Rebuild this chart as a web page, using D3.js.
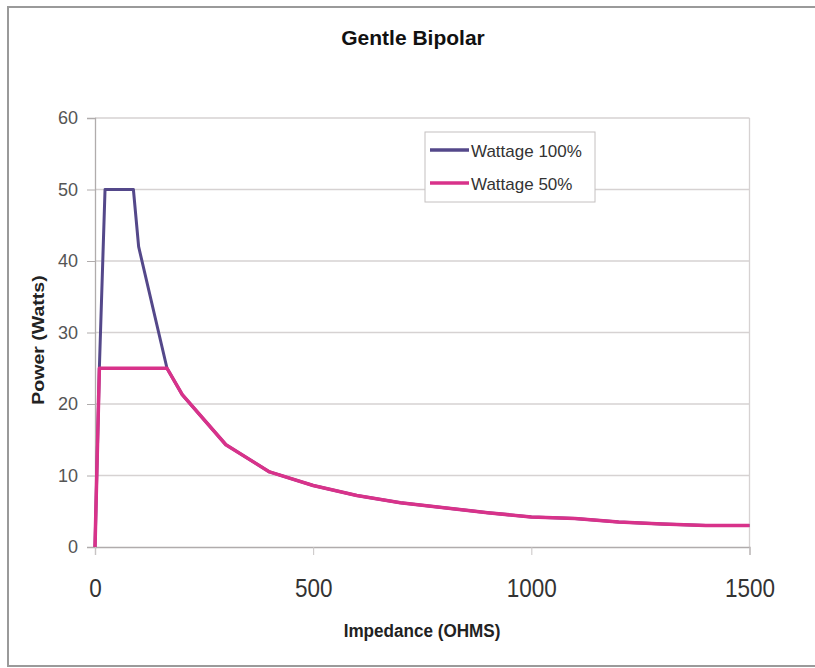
<!DOCTYPE html>
<html>
<head>
<meta charset="utf-8">
<script src="https://cdn.jsdelivr.net/npm/d3@7/dist/d3.min.js"></script>
<style>
  html, body { margin: 0; padding: 0; background: #fff; }
  svg { display: block; font-family: "Liberation Sans", Arial, sans-serif; }
</style>
</head>
<body>
<svg id="chart" width="815" height="668"></svg>
<script>
// Output power curves of the generator in Gentle Bipolar mode
const ohms100  = [0, 10, 23, 88, 100, 165, 200, 300, 400, 500, 600, 700, 800, 900, 1000, 1100, 1200, 1300, 1400, 1500];
const watts100 = [0, 25, 50, 50, 42, 25, 21.3, 14.3, 10.5, 8.6, 7.2, 6.2, 5.5, 4.8, 4.2, 4.0, 3.5, 3.2, 3.0, 3.0];
const ohms50   = [0, 10, 165, 200, 300, 400, 500, 600, 700, 800, 900, 1000, 1100, 1200, 1300, 1400, 1500];
const watts50  = [0, 25, 25, 21.3, 14.3, 10.5, 8.6, 7.2, 6.2, 5.5, 4.8, 4.2, 4.0, 3.5, 3.2, 3.0, 3.0];
const seriesNames = ["Wattage 100%", "Wattage 50%"];
const xTicks = [0, 500, 1000, 1500];
const yTicks = [0, 10, 20, 30, 40, 50, 60];

const colors = ["#54488a", "#d8328a"];

const svg = d3.select("#chart");
const plot = { left: 95, right: 749.5, top: 118, bottom: 547 };

const x = d3.scaleLinear().domain([0, 1500]).range([plot.left, plot.right]);
const y = d3.scaleLinear().domain([0, 60]).range([plot.bottom, plot.top]);

// outer frame
svg.append("path")
  .attr("d", `M820,7 H8 V666 H820`)
  .attr("fill", "none").attr("stroke", "#9a9a9a").attr("stroke-width", 2);

// title
svg.append("text")
  .attr("x", 413).attr("y", 45)
  .attr("text-anchor", "middle")
  .attr("font-size", 21).attr("font-weight", "bold").attr("fill", "#111")
  .text("Gentle Bipolar");

// gridlines
svg.append("g").selectAll("line")
  .data(yTicks.filter(d => d > 0))
  .join("line")
  .attr("x1", plot.left).attr("x2", plot.right)
  .attr("y1", d => y(d)).attr("y2", d => y(d))
  .attr("stroke", "#d6d2d2").attr("stroke-width", 1.3);

// right border of plot area
svg.append("line")
  .attr("x1", plot.right).attr("x2", plot.right)
  .attr("y1", plot.top).attr("y2", plot.bottom)
  .attr("stroke", "#d6d2d2").attr("stroke-width", 1.3);

// y axis
const yAxis = d3.axisLeft(y).tickValues(yTicks).tickSize(8).tickPadding(9);
const gy = svg.append("g").attr("transform", `translate(${plot.left},0)`).call(yAxis);
gy.select(".domain").attr("stroke", "#b0acac").attr("stroke-width", 1.3);
gy.selectAll(".tick line").attr("stroke", "#b0acac");
gy.selectAll(".tick text").attr("font-size", 18).attr("fill", "#555")
  .attr("font-family", "Liberation Sans, Arial, sans-serif");

// x axis
const xAxis = d3.axisBottom(x).tickValues(xTicks).tickSize(8).tickPadding(0).tickFormat(d3.format("d"));
const gx = svg.append("g").attr("transform", `translate(0,${plot.bottom})`).call(xAxis);
gx.select(".domain").attr("stroke", "#b0acac").attr("stroke-width", 1.3);
gx.selectAll(".tick line").attr("stroke", "#c8c4c4");
gx.selectAll(".tick text")
  .attr("font-size", 25).attr("fill", "#333").attr("dy", null)
  .attr("font-family", "Liberation Sans, Arial, sans-serif")
  .attr("y", 0)
  .attr("transform", "translate(0,50) scale(0.9,1)");

// axis titles
svg.append("text")
  .attr("transform", "translate(422,637) scale(0.9,1)")
  .attr("text-anchor", "middle")
  .attr("font-size", 19).attr("font-weight", "bold").attr("fill", "#222")
  .text("Impedance (OHMS)");

svg.append("text")
  .attr("transform", "translate(44,340) rotate(-90) scale(1.15,1)")
  .attr("text-anchor", "middle")
  .attr("font-size", 17).attr("font-weight", "bold").attr("fill", "#222")
  .text("Power (Watts)");

// series lines
const line = d3.line().x(d => x(d[0])).y(d => y(d[1]));
const series = [
  d3.zip(ohms100, watts100),
  d3.zip(ohms50, watts50)
];
svg.append("g").selectAll("path")
  .data(series)
  .join("path")
  .attr("d", line)
  .attr("fill", "none")
  .attr("stroke", (d, i) => colors[i])
  .attr("stroke-width", (d, i) => i === 0 ? 3 : 3.5)
  .attr("stroke-linejoin", "round");

// legend
const legend = svg.append("g");
legend.append("rect")
  .attr("x", 425).attr("y", 132).attr("width", 170).attr("height", 70)
  .attr("fill", "#fff").attr("stroke", "#c4c0c0").attr("stroke-width", 1);
const items = legend.selectAll("g.item")
  .data(seriesNames)
  .join("g").attr("class", "item")
  .attr("transform", (d, i) => `translate(0,${150 + i * 33})`);
items.append("line")
  .attr("x1", 430).attr("x2", 469)
  .attr("stroke", (d, i) => colors[i]).attr("stroke-width", 3.5);
items.append("text")
  .attr("x", 471).attr("y", 6.5)
  .attr("font-size", 17).attr("fill", "#333")
  .text(d => d);
</script>
</body>
</html>
